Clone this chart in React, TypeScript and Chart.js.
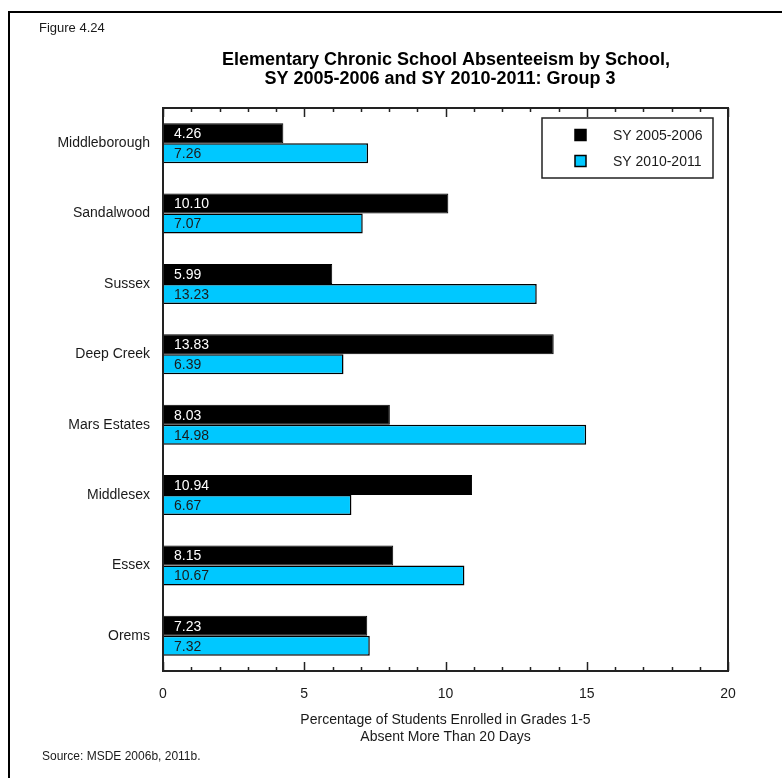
import React, { useEffect, useRef } from "react";
import { Chart, registerables } from "chart.js";

Chart.register(...registerables);

const schools = ["Middleborough", "Sandalwood", "Sussex", "Deep Creek", "Mars Estates", "Middlesex", "Essex", "Orems"];
const sy0506 = [4.26, 10.1, 5.99, 13.83, 8.03, 10.94, 8.15, 7.23];
const sy1011 = [7.26, 7.07, 13.23, 6.39, 14.98, 6.67, 10.67, 7.32];
const seriesNames = ["SY 2005-2006", "SY 2010-2011"];
const seriesColors = ["#000000", "#00C8FF"];
const xMin = 0;
const xMax = 20;
const xStep = 5;
const titleLines = ["Elementary Chronic School Absenteeism by School,", "SY 2005-2006 and SY 2010-2011: Group 3"];
const axisTitleLines = ["Percentage of Students Enrolled in Grades 1-5", "Absent More Than 20 Days"];
const figureLabel = "Figure 4.24";
const sourceNote = "Source: MSDE 2006b, 2011b.";

const FONT = '"Liberation Sans", Arial, Helvetica, sans-serif';
const TEXT = "#1a1a1a";

const decor = {
  id: "decor",
  beforeDraw(chart: any) {
    const { ctx, width, height } = chart;
    ctx.save();
    ctx.fillStyle = "#ffffff";
    ctx.fillRect(0, 0, width, height);
    ctx.restore();
  },
  afterDatasetsDraw(chart: any) {
    const { ctx, chartArea } = chart;
    ctx.save();
    ctx.font = `14px ${FONT}`;
    ctx.textAlign = "left";
    ctx.textBaseline = "middle";
    chart.data.datasets.forEach((ds: any, di: number) => {
      const meta = chart.getDatasetMeta(di);
      meta.data.forEach((bar: any, i: number) => {
        ctx.fillStyle = di === 0 ? "#ffffff" : TEXT;
        ctx.fillText(Number(ds.data[i]).toFixed(2), chartArea.left + 11, bar.y + 1);
      });
    });
    ctx.restore();
  },
  afterDraw(chart: any) {
    const { ctx, chartArea } = chart;
    const xs = chart.scales.x;
    ctx.save();
    // outer page frame (top & left)
    ctx.strokeStyle = "#000";
    ctx.lineWidth = 2;
    ctx.beginPath();
    ctx.moveTo(9, 790);
    ctx.lineTo(9, 12);
    ctx.lineTo(790, 12);
    ctx.stroke();

    // plot frame
    ctx.strokeStyle = "#222";
    ctx.lineWidth = 2;
    ctx.strokeRect(chartArea.left, chartArea.top, chartArea.right - chartArea.left, chartArea.bottom - chartArea.top);

    // inward ticks
    ctx.lineWidth = 1.5;
    for (let v = xMin; v <= xMax; v++) {
      const x = Math.round(xs.getPixelForValue(v)) + 0.5;
      const len = v % xStep === 0 ? 9 : 4;
      ctx.beginPath();
      ctx.moveTo(x, chartArea.bottom);
      ctx.lineTo(x, chartArea.bottom - len);
      ctx.moveTo(x, chartArea.top);
      ctx.lineTo(x, chartArea.top + len);
      ctx.stroke();
    }

    // legend
    ctx.lineWidth = 1.5;
    ctx.strokeStyle = "#222";
    ctx.strokeRect(542, 118, 171, 60);
    ctx.font = `14px ${FONT}`;
    ctx.textAlign = "left";
    ctx.textBaseline = "middle";
    chart.data.datasets.forEach((ds: any, i: number) => {
      const y = 135 + i * 26;
      ctx.fillStyle = ds.backgroundColor;
      ctx.fillRect(575, y - 5.5, 11, 11);
      ctx.lineWidth = 1.5;
      ctx.strokeStyle = "#000";
      ctx.strokeRect(575, y - 5.5, 11, 11);
      ctx.fillStyle = TEXT;
      ctx.fillText(ds.label, 613, y + 1);
    });

    // figure label
    ctx.fillStyle = TEXT;
    ctx.font = `13px ${FONT}`;
    ctx.fillText(figureLabel, 39, 28);

    // title
    ctx.font = `bold 18px ${FONT}`;
    ctx.textAlign = "center";
    ctx.fillStyle = "#000";
    ctx.fillText(titleLines[0], 446, 60);
    ctx.fillText(titleLines[1], 440, 79);

    // axis title
    ctx.font = `14px ${FONT}`;
    ctx.fillStyle = TEXT;
    const cx = (chartArea.left + chartArea.right) / 2;
    ctx.fillText(axisTitleLines[0], cx, 720);
    ctx.fillText(axisTitleLines[1], cx, 737);

    // source
    ctx.textAlign = "left";
    ctx.font = `12px ${FONT}`;
    ctx.fillText(sourceNote, 42, 757);
    ctx.restore();
  },
};

export default function App() {
  const ref = useRef<HTMLCanvasElement | null>(null);
  useEffect(() => {
    if (!ref.current) return;
    const chart = new Chart(ref.current, {
      type: "bar",
      data: {
        labels: schools,
        datasets: [
          {
            label: seriesNames[0],
            data: sy0506,
            backgroundColor: seriesColors[0],
            borderColor: "#000",
            borderWidth: 1,
            barPercentage: 1,
            categoryPercentage: 0.57,
          },
          {
            label: seriesNames[1],
            data: sy1011,
            backgroundColor: seriesColors[1],
            borderColor: "#000",
            borderWidth: 1.5,
            barPercentage: 1,
            categoryPercentage: 0.57,
          },
        ],
      },
      options: {
        indexAxis: "y",
        animation: false,
        responsive: true,
        maintainAspectRatio: false,
        layout: { padding: { left: 0, top: 108, right: 54, bottom: 0 } },
        plugins: {
          legend: { display: false },
          title: { display: false },
          tooltip: { enabled: false },
        },
        scales: {
          x: {
            type: "linear",
            position: "bottom",
            min: xMin,
            max: xMax,
            grid: { display: false, drawTicks: false },
            border: { display: false },
            ticks: {
              stepSize: xStep,
              padding: 15,
              color: TEXT,
              font: { family: FONT, size: 14 },
              maxRotation: 0,
            },
            afterFit(scale: any) {
              scale.height = 107;
            },
          },
          y: {
            type: "category",
            position: "left",
            grid: { display: false, drawTicks: false },
            border: { display: false },
            ticks: {
              padding: 13,
              color: TEXT,
              font: { family: FONT, size: 14 },
            },
            afterFit(scale: any) {
              scale.width = 163;
            },
          },
        },
      },
      plugins: [decor],
    });
    return () => chart.destroy();
  }, []);
  return (
    <div style={{ position: "fixed", left: 0, top: 0, width: 782, height: 778 }}>
      <canvas ref={ref} />
    </div>
  );
}
